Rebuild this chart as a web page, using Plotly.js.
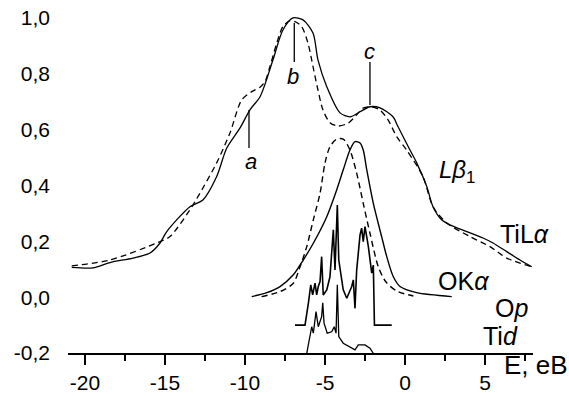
<!DOCTYPE html>
<html>
<head>
<meta charset="utf-8">
<script src="https://cdn.plot.ly/plotly-3.0.1.min.js"></script>
<style>html,body{margin:0;padding:0;background:#fff;}#chart{width:569px;height:396px;}</style>
</head>
<body>
<div id="chart"></div>
<script>
// TiL alpha, solid spectrum
var tilSolidE = [-20.83,-19.5,-18.44,-17.0,-15.94,-15.31,-14.89,-13.44,-12.63,-11.77,-11.14,-10.31,-9.69,-9.06,-8.25,-7.63,-7.0,-6.375,-5.75,-5.44,-4.89,-4.06,-3.44,-2.81,-2.19,-1.56,-0.75,-0.44,0.31,0.73,1.36,1.75,2.29,2.81,3.86,4.875,5.5,6.36,7.19,7.92];
var tilSolidI = [0.107,0.105,0.124,0.140,0.158,0.194,0.235,0.324,0.348,0.432,0.534,0.606,0.671,0.718,0.850,0.957,1.0,0.993,0.946,0.850,0.754,0.660,0.646,0.664,0.682,0.678,0.646,0.611,0.527,0.481,0.396,0.324,0.277,0.259,0.235,0.212,0.194,0.163,0.133,0.109];
// TiL alpha, dashed spectrum
var tilDashE = [-20.83,-18.44,-15.52,-14.69,-13.25,-12.94,-11.77,-10.94,-10.21,-9.58,-9.06,-8.75,-8.44,-8.02,-7.63,-7.19,-6.875,-6.46,-6.06,-5.75,-5.44,-5.125,-4.69,-4.19,-3.56,-3.02,-2.625,-2.08,-1.56,-1.06,-0.52,0.10,1.125,1.75,2.6,4.06,5.31,6.36,7.92];
var tilDashI = [0.112,0.133,0.194,0.217,0.330,0.360,0.481,0.588,0.706,0.736,0.752,0.772,0.826,0.909,0.969,0.990,0.987,0.969,0.909,0.826,0.742,0.670,0.625,0.613,0.623,0.653,0.677,0.682,0.670,0.635,0.575,0.527,0.432,0.324,0.266,0.217,0.181,0.140,0.109];
// O K alpha, solid
var okSolidE = [-9.58,-8.64,-7.81,-6.98,-6.36,-5.73,-4.89,-4.27,-3.86,-3.44,-3.125,-2.81,-2.61,-2.39,-1.98,-1.46,-1.14,-0.73,-0.31,0.73,2.92];
var okSolidI = [0.002,0.016,0.038,0.080,0.133,0.193,0.288,0.384,0.456,0.527,0.557,0.552,0.527,0.456,0.336,0.217,0.145,0.073,0.038,0.016,0.002];
// O K alpha, dashed
var okDashE = [-8.96,-7.81,-6.98,-6.56,-6.14,-5.73,-5.31,-5.0,-4.69,-4.27,-3.86,-3.44,-3.02,-2.61,-2.19,-1.67,-1.2,-0.52,0.52];
var okDashI = [0.002,0.020,0.050,0.109,0.181,0.277,0.372,0.480,0.539,0.566,0.566,0.527,0.444,0.336,0.229,0.109,0.055,0.022,0.004];
// O p partial DOS
var opE = [-6.875,-6.25,-6.04,-5.89,-5.77,-5.625,-5.52,-5.42,-5.31,-5.21,-5.11,-4.89,-4.69,-4.48,-4.375,-4.23,-4.14,-3.86,-3.64,-3.33,-3.23,-3.125,-3.02,-2.81,-2.71,-2.61,-2.5,-2.29,-2.08,-1.98,-1.91,-0.83];
var opI = [-0.100,-0.100,-0.022,0.044,0.008,0.050,0.008,0.038,0.056,0.145,0.008,0.026,0.073,0.241,0.097,0.330,0.133,0.026,-0.004,0.038,0.062,-0.040,0.097,0.223,0.247,0.199,0.253,0.181,0.086,0.115,-0.100,-0.100];
// Ti d partial DOS
var tidE = [-6.14,-5.94,-5.83,-5.73,-5.56,-5.42,-5.21,-5.14,-5.06,-4.86,-4.58,-4.42,-4.31,-4.23,-4.14,-3.86,-3.44,-3.125,-2.92,-2.5,-2.19,-1.98];
var tidI = [-0.201,-0.129,-0.106,-0.129,-0.052,-0.106,-0.070,-0.020,-0.093,-0.129,-0.124,-0.106,-0.129,0.044,-0.141,-0.165,-0.177,-0.189,-0.171,-0.171,-0.183,-0.201];

var xTickVals = [-20,-15,-10,-5,0,5];
var xTickText = ['-20','-15','-10','-5','0','5'];
var yTickVals = [-0.2,0,0.2,0.4,0.6,0.8,1.0];
var yTickText = ['-0,2','0,0','0,2','0,4','0,6','0,8','1,0'];

var FONT = 'Liberation Sans, Arial, sans-serif';
function tr(x, y, dash, w, shape) {
  return {x: x, y: y, mode: 'lines', type: 'scatter', hoverinfo: 'skip',
    line: {color: '#000', width: w, dash: dash, shape: shape, smoothing: 0.8}};
}
var data = [
  tr(tilSolidE, tilSolidI, 'solid', 1.3, 'spline'),
  tr(tilDashE, tilDashI, '6px,4px', 1.3, 'spline'),
  tr(okSolidE, okSolidI, 'solid', 1.4, 'spline'),
  tr(okDashE, okDashI, '6px,4px', 1.4, 'spline'),
  tr(opE, opI, 'solid', 1.6, 'linear'),
  tr(tidE, tidI, 'solid', 1.3, 'linear')
];

function ann(text, x, y, size, ref) {
  return {text: text, x: x, y: y, xref: ref ? 'paper' : 'x', yref: ref ? 'paper' : 'y',
    showarrow: false, xanchor: 'center', yanchor: 'middle',
    font: {family: FONT, size: size, color: '#000'}};
}
var layout = {
  width: 569, height: 396,
  margin: {l: 68, r: 36, t: 6, b: 43},
  paper_bgcolor: '#fff', plot_bgcolor: '#fff',
  showlegend: false,
  font: {family: FONT, color: '#000'},
  xaxis: {range: [-21.0625, 8.0], showgrid: false, zeroline: false,
    showline: true, linewidth: 2, linecolor: '#000',
    tickmode: 'array', tickvals: xTickVals, ticktext: xTickText,
    ticks: 'outside', ticklen: 10, tickwidth: 2, tickcolor: '#000',
    tickfont: {size: 21, family: FONT},
    minor: {ticks: 'outside', ticklen: 6, tickwidth: 2, tickcolor: '#000', dtick: 2.5, tick0: 0, showgrid: false}},
  yaxis: {range: [-0.2, 1.0428], showgrid: false, zeroline: false, showline: false,
    tickmode: 'array', tickvals: yTickVals, ticktext: yTickText,
    ticks: '', ticklabelstandoff: 17, tickfont: {size: 21, family: FONT}},
  annotations: [
    ann('TiL<i>α</i>', 7.47, 0.225, 25),
    ann('<i>L</i><i>β</i><sub>1</sub>', 3.22, 0.45, 24),
    ann('OK<i>α</i>', 3.65, 0.058, 25),
    ann('O<i>p</i>', 6.64, -0.038, 25),
    ann('Ti<i>d</i>', 5.94, -0.138, 25),
    ann('<i>a</i>', -9.625, 0.487, 22),
    ann('<i>b</i>', -6.98, 0.792, 22),
    ann('<i>c</i>', -2.19, 0.881, 22),
    ann('E, eB', 1.0055, -0.035, 26, true)
  ],
  shapes: [
    {type: 'line', xref: 'x', yref: 'y', x0: -9.75, x1: -9.75, y0: 0.534, y1: 0.670, line: {color: '#000', width: 1.3}},
    {type: 'line', xref: 'x', yref: 'y', x0: -6.92, x1: -6.92, y0: 0.842, y1: 0.982, line: {color: '#000', width: 1.3}},
    {type: 'line', xref: 'x', yref: 'y', x0: -2.19, x1: -2.19, y0: 0.688, y1: 0.842, line: {color: '#000', width: 1.3}}
  ]
};
Plotly.newPlot('chart', data, layout, {staticPlot: true, displayModeBar: false});
</script>
</body>
</html>
